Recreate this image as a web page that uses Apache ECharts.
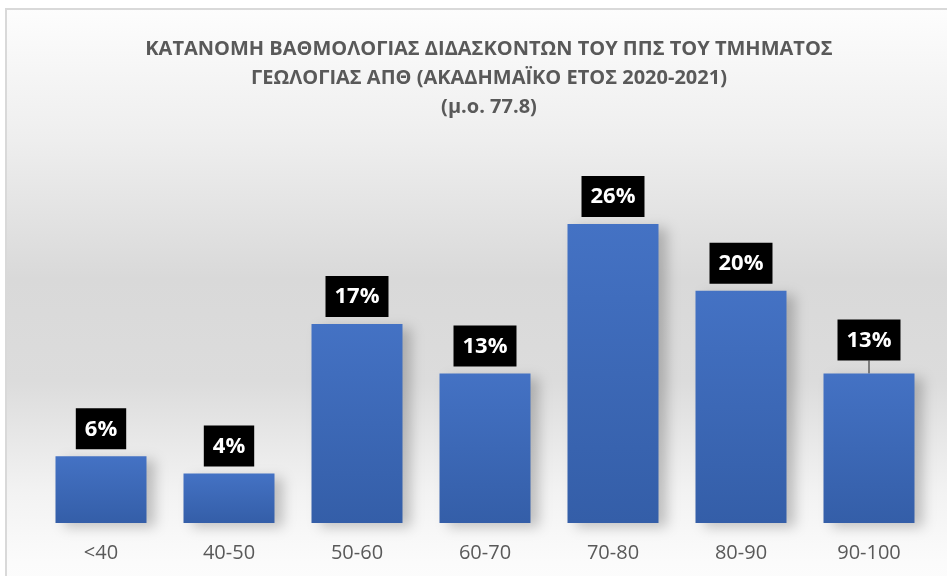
<!DOCTYPE html>
<html>
<head>
<meta charset="utf-8">
<script src="https://cdn.jsdelivr.net/npm/echarts@6/dist/echarts.min.js"></script>
<style>
  html, body { margin: 0; padding: 0; background: #fff; }
  #main { width: 947px; height: 576px; }
</style>
</head>
<body>
<div id="main"></div>
<script>
// κατηγορίες βαθμολογίας και ποσοστά
var categories = ['<40', '40-50', '50-60', '60-70', '70-80', '80-90', '90-100'];
var percents = [5.8, 4.3, 17.3, 13.0, 26.0, 20.2, 13.0];
var titleLines = [
  'ΚΑΤΑΝΟΜΗ ΒΑΘΜΟΛΟΓΙΑΣ ΔΙΔΑΣΚΟΝΤΩΝ ΤΟΥ ΠΠΣ ΤΟΥ ΤΜΗΜΑΤΟΣ',
  'ΓΕΩΛΟΓΙΑΣ ΑΠΘ (ΑΚΑΔΗΜΑΪΚΟ ΕΤΟΣ 2020-2021)',
  '(μ.ο. 77.8)'
];
// η τελευταία ετικέτα είναι μετακινημένη με γραμμή οδηγό
var movedLabel = 6;

var myChart = echarts.init(document.getElementById('main'));

var barData = percents.map(function (v, i) {
  if (i === movedLabel) {
    return { value: v, labelLine: { show: true } };
  }
  return v;
});

var option = {
  animation: false,
  backgroundColor: '#ffffff',
  graphic: [{
    type: 'rect',
    z: -10,
    shape: { x: 6, y: 9, width: 960, height: 600 },
    style: {
      stroke: '#d9d9d9',
      lineWidth: 2,
      fill: new echarts.graphic.LinearGradient(0, 0, 0, 1, [
        { offset: 0, color: '#fdfdfd' },
        { offset: 0.22, color: '#eeeeee' },
        { offset: 0.45, color: '#d9d9d9' },
        { offset: 0.62, color: '#dcdcdc' },
        { offset: 0.8, color: '#f2f2f2' },
        { offset: 0.92, color: '#fbfbfb' },
        { offset: 1, color: '#fdfdfd' }
      ])
    }
  }],
  title: {
    text: titleLines.join('\n'),
    left: 484,
    top: 30,
    textAlign: 'center',
    textStyle: {
      fontFamily: 'Open Sans',
      fontWeight: 'bold',
      fontSize: 20,
      lineHeight: 29,
      color: '#595959'
    }
  },
  grid: { left: 37, right: 14, top: 178, bottom: 53 },
  xAxis: {
    type: 'category',
    data: categories,
    axisLine: { show: false },
    axisTick: { show: false },
    axisLabel: {
      margin: 20,
      fontFamily: 'Open Sans',
      fontSize: 20,
      color: '#595959'
    }
  },
  yAxis: {
    type: 'value',
    min: 0,
    max: 30,
    show: false,
    splitLine: { show: false }
  },
  series: [{
    type: 'bar',
    data: barData,
    barWidth: 91,
    itemStyle: {
      color: new echarts.graphic.LinearGradient(0, 0, 0, 1, [
        { offset: 0, color: '#4472c4' },
        { offset: 1, color: '#345ea8' }
      ]),
      shadowColor: 'rgba(0,0,0,0.22)',
      shadowBlur: 12,
      shadowOffsetX: 8,
      shadowOffsetY: 4
    },
    label: {
      show: true,
      position: 'top',
      distance: 7,
      formatter: function (p) { return Math.round(p.value) + '%'; },
      backgroundColor: '#000000',
      padding: [9, 9, 8, 9],
      fontFamily: 'Open Sans',
      fontWeight: 'bold',
      fontSize: 22,
      lineHeight: 24,
      color: '#ffffff'
    },
    labelLine: {
      show: false,
      lineStyle: { color: '#7f7f7f', width: 2 }
    },
    labelLayout: function (p) {
      if (p.dataIndex === movedLabel) {
        return { dy: -6 };
      }
    }
  }]
};

myChart.setOption(option);
</script>
</body>
</html>
